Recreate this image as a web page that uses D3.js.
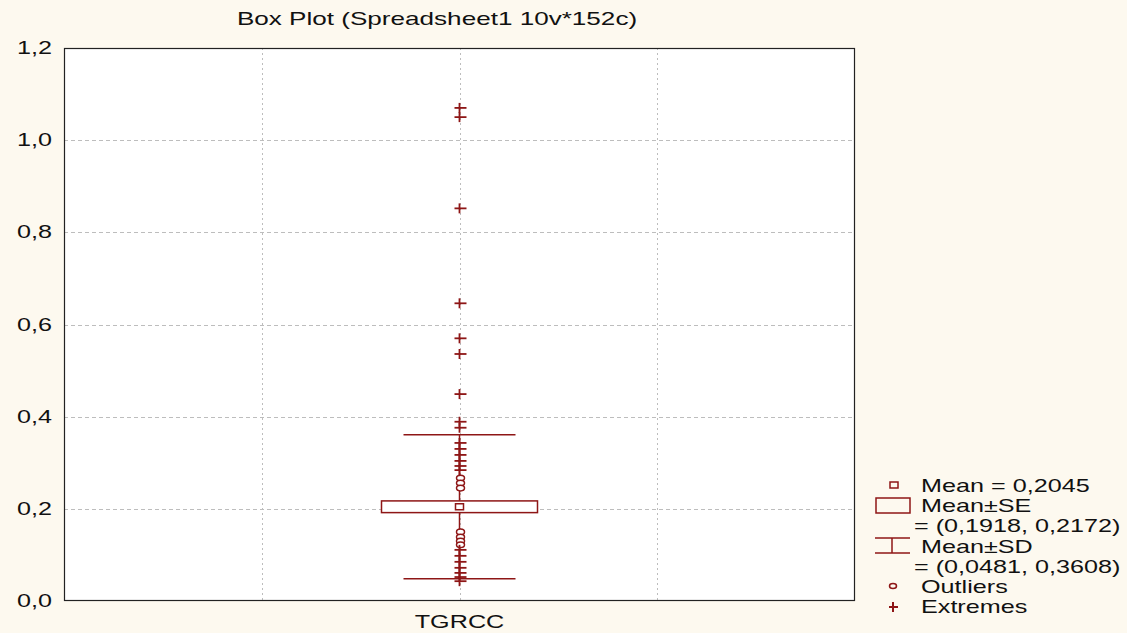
<!DOCTYPE html>
<html><head><meta charset="utf-8">
<script src="https://cdn.jsdelivr.net/npm/d3@7"></script>
<style>
html,body{margin:0;padding:0;background:#fdf9ef;}
svg{display:block;}
text{font-family:"Liberation Sans",Arial,sans-serif;fill:#111;}
</style></head>
<body>
<script>
const title = "Box Plot (Spreadsheet1 10v*152c)";
const categories = ["TGRCC"];
const yTicks = [0, 0.2, 0.4, 0.6, 0.8, 1.0, 1.2];
const meanVal = [0.2045];
const seRange = [0.1918, 0.2172];
const sdRange = [0.0481, 0.3608];
const outliers = [0.267, 0.256, 0.245, 0.150, 0.139, 0.130, 0.122];
const extremes = [1.070, 1.050, 0.852, 0.646, 0.570, 0.536, 0.449, 0.389, 0.376,
                  0.343, 0.330, 0.317, 0.304, 0.293, 0.284,
                  0.111, 0.098, 0.085, 0.072, 0.061, 0.052, 0.043];
const legendLines = ["Mean = 0,2045", "Mean\u00b1SE", "= (0,1918, 0,2172)", "Mean\u00b1SD", "= (0,0481, 0,3608)", "Outliers", "Extremes"];

const W = 1127, H = 633;
const L = 64, R = 855, T = 48, B = 601;
const red = "#8e1616";
const SX = 1.4;
const fmt = v => d3.format(".1f")(v).replace(".", ",");

const svg = d3.select("body").append("svg").attr("width", W).attr("height", H);
svg.append("rect").attr("width", W).attr("height", H).attr("fill", "#fdf9ef");

function stext(x, y, s, anchor, size, sx) {
  return svg.append("text")
    .attr("transform", `translate(${x},${y}) scale(${sx || SX},1)`)
    .attr("text-anchor", anchor || "start")
    .attr("font-size", size || 18)
    .text(s);
}

const y = d3.scaleLinear().domain([0, 1.2]).range([B, T]);
const x = d3.scalePoint().domain(categories).range([L, R]).padding(0.5);
const gx = d3.scaleLinear().domain([0, 4]).range([L, R]);

// plot area
svg.append("rect").attr("x", L).attr("y", T).attr("width", R - L).attr("height", B - T).attr("fill", "#fff");

// grid
svg.append("g").selectAll("line").data(yTicks.filter(d => d > 0 && d < 1.2)).join("line")
  .attr("x1", L).attr("x2", R).attr("y1", d => Math.round(y(d)) + 0.5).attr("y2", d => Math.round(y(d)) + 0.5)
  .attr("stroke", "#bdbdbd").attr("stroke-dasharray", "4,3");
svg.append("g").selectAll("line").data([1, 2, 3]).join("line")
  .attr("x1", d => Math.round(gx(d)) + 0.5).attr("x2", d => Math.round(gx(d)) + 0.5).attr("y1", T).attr("y2", B)
  .attr("stroke", "#bdbdbd").attr("stroke-dasharray", "2,3");

// frame
svg.append("rect").attr("x", L + 0.5).attr("y", T + 0.5).attr("width", R - L - 1).attr("height", B - T - 1)
  .attr("fill", "none").attr("stroke", "#222").attr("stroke-width", 1.2);

// y tick labels
yTicks.forEach(t => stext(52, y(t) + 6, fmt(t), "end"));

// x label
categories.forEach(c => stext(x(c), 628, c, "middle"));

// title
stext(437, 25, title, "middle", 18, 1.45);

// box plot
const cx = x("TGRCC");
const bw = 78, ww = 56;
const g = svg.append("g").attr("stroke", red).attr("fill", "none");
g.append("line").attr("x1", cx).attr("x2", cx).attr("y1", y(seRange[1])).attr("y2", y(sdRange[1])).attr("stroke-width", 1.5);
g.append("line").attr("x1", cx).attr("x2", cx).attr("y1", y(seRange[0])).attr("y2", y(sdRange[0])).attr("stroke-width", 1.5);
sdRange.forEach(v => g.append("line").attr("x1", cx - ww).attr("x2", cx + ww).attr("y1", y(v)).attr("y2", y(v)).attr("stroke-width", 1.5));
g.append("rect").attr("x", cx - bw).attr("y", y(seRange[1])).attr("width", 2 * bw)
  .attr("height", y(seRange[0]) - y(seRange[1])).attr("fill", "#fff").attr("stroke-width", 1.5);
g.selectAll(".mean").data(meanVal).join("rect").attr("class", "mean")
  .attr("x", cx - 4).attr("y", d => y(d) - 3).attr("width", 8).attr("height", 6).attr("stroke-width", 1.5);
g.selectAll(".out").data(outliers).join("ellipse").attr("class", "out")
  .attr("cx", cx + 1).attr("cy", d => y(d)).attr("rx", 4).attr("ry", 2.8).attr("fill", "#fff").attr("stroke-width", 1.5);
const ex = g.selectAll(".ext").data(extremes).join("g").attr("class", "ext")
  .attr("transform", d => `translate(${cx},${y(d)})`);
ex.append("line").attr("x1", -5).attr("x2", 7).attr("y1", 0).attr("y2", 0).attr("stroke-width", 1.8);
ex.append("line").attr("x1", 0).attr("x2", 0).attr("y1", -5).attr("y2", 5).attr("stroke-width", 1.8);

// legend
const lg = svg.append("g").attr("stroke", red).attr("fill", "none");
lg.append("rect").attr("x", 890).attr("y", 482).attr("width", 8).attr("height", 6).attr("stroke-width", 1.5);
lg.append("rect").attr("x", 876).attr("y", 498).attr("width", 34).attr("height", 15).attr("stroke-width", 1.5);
lg.append("line").attr("x1", 875).attr("x2", 910).attr("y1", 538).attr("y2", 538).attr("stroke-width", 1.5);
lg.append("line").attr("x1", 875).attr("x2", 910).attr("y1", 553).attr("y2", 553).attr("stroke-width", 1.5);
lg.append("line").attr("x1", 892).attr("x2", 892).attr("y1", 538).attr("y2", 553).attr("stroke-width", 1.5);
lg.append("ellipse").attr("cx", 893).attr("cy", 586).attr("rx", 3.5).attr("ry", 2.5).attr("stroke-width", 1.5);
lg.append("line").attr("x1", 889).attr("x2", 898).attr("y1", 607).attr("y2", 607).attr("stroke-width", 2);
lg.append("line").attr("x1", 893).attr("x2", 893).attr("y1", 602).attr("y2", 612).attr("stroke-width", 2);

const legX = [921, 921, 914, 921, 914, 921, 921];
const legY = [492, 512, 532, 553, 573, 593, 613];
legendLines.forEach((s, i) => stext(legX[i], legY[i], s, "start", 18));
</script>
</body></html>
